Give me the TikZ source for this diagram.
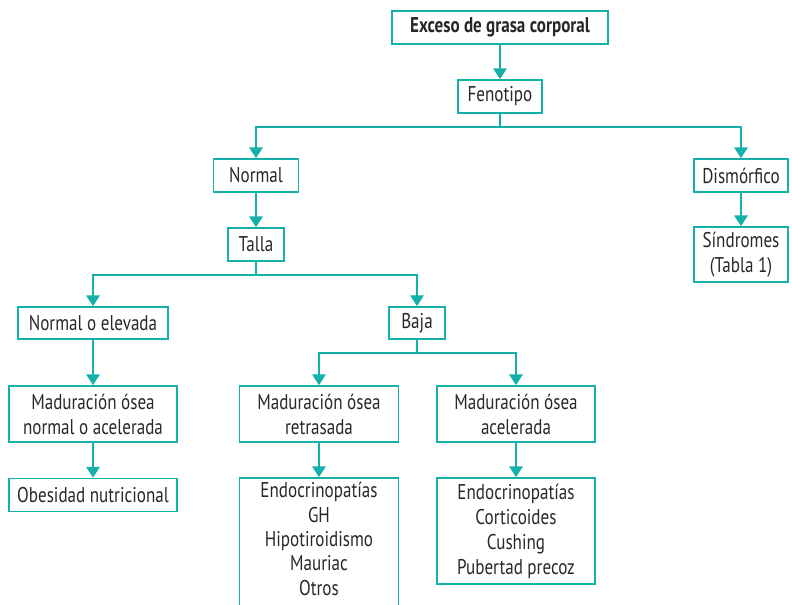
\documentclass[tikz,border=0pt]{standalone}
\usepackage{fontspec}
\setmainfont{PT Sans}[FakeStretch=0.8]
\usetikzlibrary{arrows.meta}
\definecolor{teal1}{RGB}{20,176,170}
\definecolor{txt}{RGB}{40,40,40}
\tikzset{
  bx/.style={draw=teal1, line width=1.3pt, fill=white, inner sep=0pt, anchor=center,
    align=center, text=txt, font=\fontsize{16}{18.75}\selectfont},
  arr/.style={draw=teal1, line width=1.3pt, -{Triangle[width=10pt,length=8pt]}},
  ln/.style={draw=teal1, line width=1.3pt},
}
\begin{document}
\begin{tikzpicture}[x=0.75pt,y=-0.75pt]
\clip (0,0) rectangle (792,604);
\node[bx, minimum width=162pt, minimum height=24.75pt, font=\fontsize{16}{18.75}\selectfont\bfseries] (exceso) at (500,27.5) {Exceso de grasa corporal};
\node[bx, minimum width=63pt, minimum height=24.75pt] (feno) at (500,96.5) {Fenotipo};
\node[bx, minimum width=63.75pt, minimum height=24.75pt] (normal) at (256,175.5) {Normal};
\node[bx, minimum width=70.5pt, minimum height=24.75pt] (dism) at (741,175.5) {Dismórfico};
\node[bx, minimum width=42pt, minimum height=24.75pt] (talla) at (256,244.5) {Talla};
\node[bx, minimum width=70.5pt, minimum height=41.25pt] (sind) at (741,254.5) {Síndromes\\(Tabla 1)};
\node[bx, minimum width=112.5pt, minimum height=24pt] (noe) at (93,323) {Normal o elevada};
\node[bx, minimum width=42pt, minimum height=24pt] (baja) at (417,323) {Baja};
\node[bx, minimum width=126pt, minimum height=42pt] (mnoa) at (93,414) {Maduración ósea\\normal o acelerada};
\node[bx, minimum width=119.25pt, minimum height=42pt] (mret) at (319,414) {Maduración ósea\\retrasada};
\node[bx, minimum width=118.5pt, minimum height=42pt] (macel) at (516,414) {Maduración ósea\\acelerada};
\node[bx, minimum width=126pt, minimum height=24.75pt] (obes) at (93,495) {Obesidad nutricional};
\node[bx, minimum width=119.25pt, minimum height=97.5pt, text depth=0pt] (endoA) at (319,543) {};
\node[bx, draw=none, fill=none, font=\fontsize{16}{18.3}\selectfont] (endoAt) at (319,539) {Endocrinopatías\\GH\\Hipotiroidismo\\Mauriac\\Otros};
\node[bx, minimum width=118.5pt, minimum height=79.5pt] (endoB) at (516,531) {Endocrinopatías\\Corticoides\\Cushing\\Pubertad precoz};
\coordinate (f1) at (500,127);
\coordinate (f2) at (256,275);
\coordinate (f3) at (417,353);
\draw[arr] (exceso.south) -- (feno.north);
\draw[ln] (feno.south) -- (f1);
\draw[arr] (f1) -| (normal.north);
\draw[arr] (f1) -| (dism.north);
\draw[arr] (normal.south) -- (talla.north);
\draw[arr] (dism.south) -- (sind.north);
\draw[ln] (talla.south) -- (f2);
\draw[arr] (f2) -| (noe.north);
\draw[arr] (f2) -| (baja.north);
\draw[ln] (baja.south) -- (f3);
\draw[arr] (f3) -| (mret.north);
\draw[arr] (f3) -| (macel.north);
\draw[arr] (noe.south) -- (mnoa.north);
\draw[arr] (mnoa.south) -- (obes.north);
\draw[arr] (mret.south) -- (endoA.north);
\draw[arr] (macel.south) -- (endoB.north);
\end{tikzpicture}
\end{document}
